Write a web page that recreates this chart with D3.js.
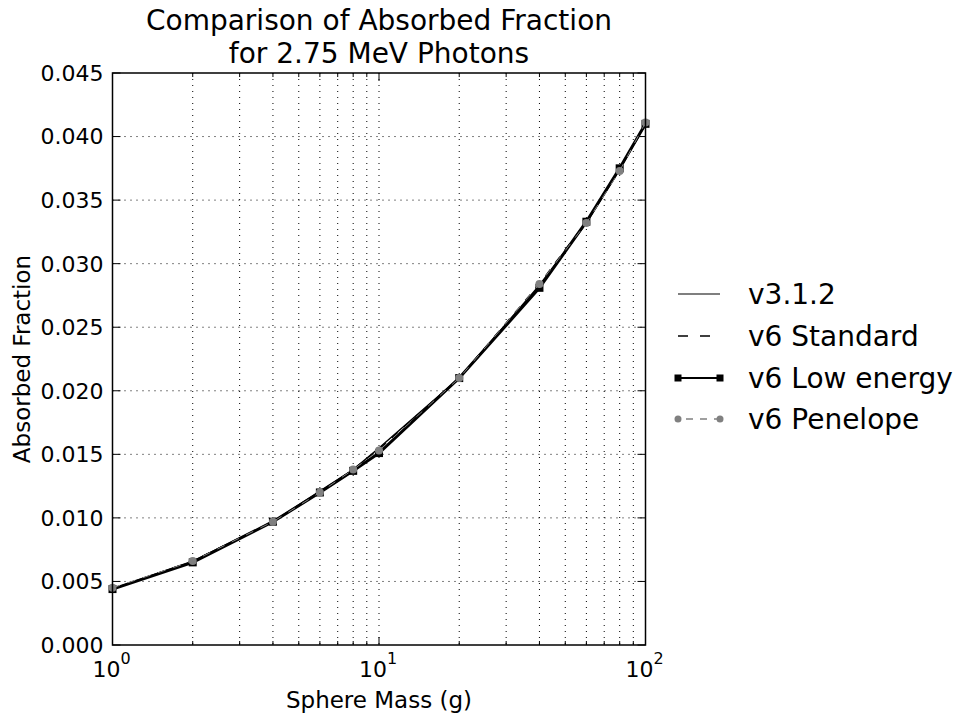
<!DOCTYPE html>
<html>
<head>
<meta charset="utf-8">
<script src="https://cdn.jsdelivr.net/npm/d3@7"></script>
<style>
  body { margin: 0; background: #fff; }
  text { font-family: "DejaVu Sans", sans-serif; fill: #000; }
</style>
</head>
<body>
<div id="chart"></div>
<script>
const masses = [1, 2, 4, 6, 8, 10, 20, 40, 60, 80, 100];
const v312 = [0.0044, 0.0066, 0.0097, 0.0121, 0.0138, 0.0155, 0.0210, 0.0283, 0.0332, 0.0374, 0.0410];
const v6Standard = [0.0044, 0.0066, 0.0097, 0.0120, 0.0138, 0.0154, 0.0210, 0.0284, 0.0333, 0.0375, 0.0409];
const v6LowEnergy = [0.0044, 0.0065, 0.0097, 0.0120, 0.0137, 0.0151, 0.0210, 0.0281, 0.0333, 0.0375, 0.0410];
const v6Penelope = [0.0045, 0.0066, 0.0097, 0.0120, 0.0138, 0.0153, 0.0210, 0.0284, 0.0332, 0.0373, 0.0411];
const seriesNames = ["v3.1.2", "v6 Standard", "v6 Low energy", "v6 Penelope"];
const yTicks = [0, 0.005, 0.01, 0.015, 0.02, 0.025, 0.03, 0.035, 0.04, 0.045];
const xMajor = [1, 10, 100];
const xMinor = [2, 3, 4, 5, 6, 7, 8, 9, 20, 30, 40, 50, 60, 70, 80, 90];

const margin = { top: 73, left: 112.5 };
const width = 533;
const height = 572;

const svg = d3
  .select("#chart")
  .append("svg")
  .attr("width", 955)
  .attr("height", 715);

const g = svg.append("g").attr("transform", `translate(${margin.left},${margin.top})`);

const x = d3.scaleLog().domain([1, 100]).range([0, width]);
const y = d3.scaleLinear().domain([0, 0.045]).range([height, 0]);

// grid
const grid = g.append("g").attr("stroke", "#000").attr("stroke-width", 1)
  .attr("stroke-dasharray", "1,5");
grid.selectAll(".vgrid")
  .data(xMajor.concat(xMinor).filter((d) => d > 1 && d < 100))
  .enter().append("line")
  .attr("x1", (d) => x(d)).attr("x2", (d) => x(d))
  .attr("y1", 0).attr("y2", height);
grid.selectAll(".hgrid")
  .data(yTicks.filter((d) => d > 0 && d < 0.045))
  .enter().append("line")
  .attr("x1", 0).attr("x2", width)
  .attr("y1", (d) => y(d)).attr("y2", (d) => y(d));

// ticks inside on all sides
const ticks = g.append("g").attr("stroke", "#000").attr("stroke-width", 1);
[[xMajor, 8], [xMinor, 4]].forEach(([vals, len]) => {
  vals.forEach((v) => {
    ticks.append("line").attr("x1", x(v)).attr("x2", x(v)).attr("y1", height).attr("y2", height - len);
    ticks.append("line").attr("x1", x(v)).attr("x2", x(v)).attr("y1", 0).attr("y2", len);
  });
});
yTicks.forEach((v) => {
  ticks.append("line").attr("x1", 0).attr("x2", 8).attr("y1", y(v)).attr("y2", y(v));
  ticks.append("line").attr("x1", width).attr("x2", width - 8).attr("y1", y(v)).attr("y2", y(v));
});

// lines
const line = d3.line().x((d) => x(d[0])).y((d) => y(d[1]));
const zip = (vals) => masses.map((m, i) => [m, vals[i]]);

g.append("path").datum(zip(v312)).attr("d", line)
  .attr("fill", "none").attr("stroke", "#000").attr("stroke-width", 1.5);
g.append("path").datum(zip(v6Standard)).attr("d", line)
  .attr("fill", "none").attr("stroke", "#000").attr("stroke-width", 1.5).attr("stroke-dasharray", "8,8");
g.append("path").datum(zip(v6LowEnergy)).attr("d", line)
  .attr("fill", "none").attr("stroke", "#000").attr("stroke-width", 3);
g.selectAll(".sq").data(zip(v6LowEnergy)).enter().append("rect")
  .attr("x", (d) => x(d[0]) - 4).attr("y", (d) => y(d[1]) - 4)
  .attr("width", 8).attr("height", 8).attr("fill", "#000");
g.append("path").datum(zip(v6Penelope)).attr("d", line)
  .attr("fill", "none").attr("stroke", "#808080").attr("stroke-width", 1).attr("stroke-dasharray", "8,8");
g.selectAll(".dot").data(zip(v6Penelope)).enter().append("circle")
  .attr("cx", (d) => x(d[0])).attr("cy", (d) => y(d[1])).attr("r", 4)
  .attr("fill", "#808080");

// frame
g.append("rect").attr("width", width).attr("height", height)
  .attr("fill", "none").attr("stroke", "#000").attr("stroke-width", 1.5);

// tick labels
g.selectAll(".ylab").data(yTicks).enter().append("text")
  .attr("x", -9).attr("y", (d) => y(d)).attr("dy", "0.36em")
  .attr("text-anchor", "end").style("font-size", "22px")
  .text((d) => d3.format(".3f")(d));

const xl = g.selectAll(".xlab").data(xMajor).enter().append("text")
  .attr("x", (d) => x(d) - 1).attr("y", height + 32)
  .attr("text-anchor", "middle").style("font-size", "22px");
xl.append("tspan").text("10");
xl.append("tspan").attr("dy", -13).style("font-size", "16px").text((d) => Math.round(Math.log10(d)));

// axis labels
svg.append("text").attr("x", margin.left + width / 2).attr("y", 708)
  .attr("text-anchor", "middle").style("font-size", "23px").text("Sphere Mass (g)");
svg.append("text").attr("transform", `translate(30,${margin.top + height / 2}) rotate(-90)`)
  .attr("text-anchor", "middle").style("font-size", "23px").text("Absorbed Fraction");

// title
svg.append("text").attr("x", margin.left + width / 2).attr("y", 30)
  .attr("text-anchor", "middle").style("font-size", "28px").text("Comparison of Absorbed Fraction");
svg.append("text").attr("x", margin.left + width / 2).attr("y", 63)
  .attr("text-anchor", "middle").style("font-size", "28px").text("for 2.75 MeV Photons");

// legend
const legendY = [294, 336, 378, 419];
const legend = svg.append("g");
seriesNames.forEach((name, i) => {
  const ly = legendY[i];
  const h = legend.append("line").attr("x1", 678).attr("x2", 720).attr("y1", ly).attr("y2", ly);
  if (i === 0) h.attr("stroke", "#000").attr("stroke-width", 1.2);
  if (i === 1) h.attr("stroke", "#000").attr("stroke-width", 1.5).attr("stroke-dasharray", "10,12");
  if (i === 2) {
    h.attr("stroke", "#000").attr("stroke-width", 2);
    [678, 720].forEach((px) => legend.append("rect").attr("x", px - 3.5).attr("y", ly - 3.5)
      .attr("width", 7).attr("height", 7).attr("fill", "#000"));
  }
  if (i === 3) {
    h.attr("stroke", "#808080").attr("stroke-width", 1.5).attr("stroke-dasharray", "7,7")
      .attr("stroke-dashoffset", -8);
    [678, 720].forEach((px) => legend.append("circle").attr("cx", px).attr("cy", ly).attr("r", 3.5)
      .attr("fill", "#808080"));
  }
  legend.append("text").attr("x", 748).attr("y", ly).attr("dy", "0.36em")
    .style("font-size", "28px").text(name);
});
</script>
</body>
</html>
